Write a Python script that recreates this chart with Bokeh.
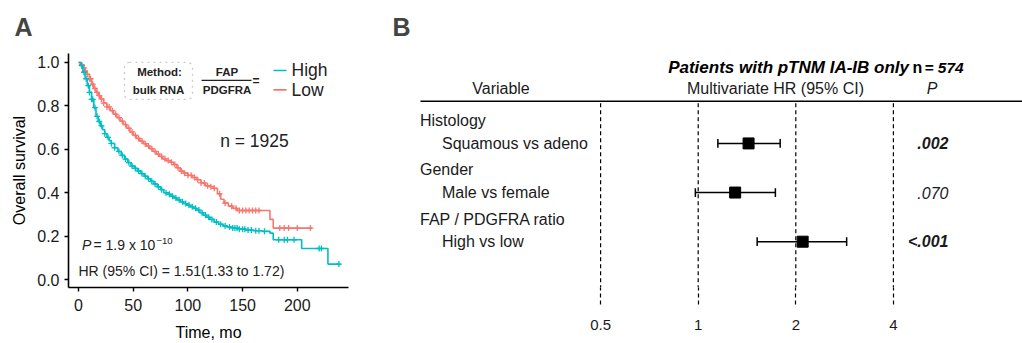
import numpy as np
from bokeh.plotting import figure
from bokeh.models import (Range1d, FixedTicker, PrintfTickFormatter, Label, BoxAnnotation,
                          ColumnDataSource, CustomJSTickFormatter)
from bokeh.layouts import row
from bokeh.embed import file_html
from bokeh.resources import INLINE
from bokeh.core.properties import value, field

# ---------------- Panel A data: Kaplan-Meier ----------------
high_time = [0, 2, 4, 6, 8, 10, 12, 14, 16, 18, 20, 22, 24, 26, 28, 30, 33, 36, 39, 42,
             45, 48, 51, 54, 57, 60, 63, 66, 69, 72, 75, 78, 81, 84, 87, 90, 93, 96, 99, 102,
             105, 108, 111, 114, 117, 120, 124, 128, 132, 136, 141, 147, 153, 160, 168, 175,
             178, 204, 228, 239.5]
high_surv = [1.0, 0.985, 0.955, 0.925, 0.893, 0.862, 0.83, 0.792, 0.752, 0.728,
             0.708, 0.69, 0.672, 0.655, 0.64, 0.627, 0.607, 0.59, 0.572, 0.555,
             0.539, 0.523, 0.512, 0.5, 0.488, 0.476, 0.464, 0.452, 0.44, 0.427,
             0.414, 0.40, 0.393, 0.384, 0.376, 0.367, 0.358, 0.35, 0.343, 0.335,
             0.328, 0.32, 0.308, 0.297, 0.287, 0.277, 0.265, 0.255, 0.247, 0.242,
             0.237, 0.232, 0.228, 0.225, 0.222, 0.214, 0.183, 0.143, 0.071, 0.071]
high_censor = [3, 5, 7, 9, 10, 12, 13, 15, 17, 19, 21, 24, 27, 30, 33, 37, 40, 43, 46, 49,
               52, 55, 58, 61, 64, 67, 70, 73, 76, 80, 83, 86, 89, 92, 95, 98, 101, 104, 107,
               110, 113, 116, 119, 122, 126, 130, 134, 138, 141, 143, 145, 147, 150, 152, 155,
               158, 162, 165, 170, 183, 188, 191, 197, 220, 222, 238]

low_time = [0, 2, 4, 6, 8, 10, 12, 14, 16, 18, 20, 23, 26, 29, 32, 35, 38, 41, 44, 47,
            50, 53, 56, 59, 62, 65, 68, 71, 74, 77, 80, 84, 87, 90, 93, 96, 100, 104, 108, 112,
            116, 120, 124, 127, 130, 133, 137, 141, 145, 175, 178, 213.5]
low_surv = [1.0, 0.99, 0.975, 0.96, 0.945, 0.925, 0.9, 0.88, 0.862, 0.847,
            0.832, 0.813, 0.795, 0.778, 0.762, 0.746, 0.73, 0.714, 0.697, 0.68,
            0.664, 0.65, 0.638, 0.626, 0.615, 0.603, 0.59, 0.578, 0.567, 0.556,
            0.548, 0.54, 0.53, 0.515, 0.5, 0.49, 0.48, 0.47, 0.46, 0.445,
            0.432, 0.428, 0.42, 0.395, 0.37, 0.352, 0.338, 0.328, 0.318, 0.277,
            0.237, 0.237]
low_censor = [3, 5, 6, 8, 10, 11, 13, 15, 17, 19, 21, 23, 26, 28, 31, 34, 37, 40, 43, 46,
              49, 52, 55, 58, 61, 64, 67, 70, 73, 76, 79, 82, 85, 88, 91, 94, 97, 100, 103,
              106, 109, 112, 115, 118, 121, 124, 129, 134, 140, 144, 147, 150, 153, 156, 159,
              162, 165, 184, 188, 192, 200, 212]

km_xticks = [0, 50, 100, 150, 200]
km_yticks = [0.0, 0.2, 0.4, 0.6, 0.8, 1.0]
n_total = 1925
group_names = ["High", "Low"]
p_value_text = "1.9 x 10"
p_exponent = "\u221210"
hr_text = "HR (95% CI) = 1.51(1.33 to 1.72)"

# ---------------- Panel B data: forest plot ----------------
groups = ["Histology", "Gender", "FAP / PDGFRA ratio"]
comparisons = ["Squamous vs adeno", "Male vs female", "High vs low"]
hr = [1.43, 1.30, 2.10]
ci_low = [1.15, 0.98, 1.52]
ci_high = [1.79, 1.73, 2.87]
p_text = [".002", ".070", "<.001"]
p_bold = [True, False, True]
hr_ticks = [0.5, 1, 2, 4]
panel_letters = ["A", "B"]

FONT = "Liberation Sans"
TEAL = "#00BFC4"
SALMON = "#F8766D"

# shared frame (plots in a row share their vertical frame position)
F_T, F_B = 53, 288


def panel_title(fig, text, offset):
    fig.title.text = text
    fig.title.text_font = FONT
    fig.title.text_font_size = "25px"
    fig.title.text_font_style = "bold"
    fig.title.align = "left"
    fig.title.vertical_align = "top"
    fig.title.offset = offset
    fig.title.standoff = 21


# ======================= Panel A =======================
AX0, AX1 = -9.14, 246.8
AY0, AY1 = -0.0367, 1.0413
A_L, A_R = 68, 348


def ax(px):
    return AX0 + (px - A_L) / (A_R - A_L) * (AX1 - AX0)


def ay(py):
    return AY1 - (py - F_T) / (F_B - F_T) * (AY1 - AY0)


pa = figure(width=390, height=343, x_range=Range1d(AX0, AX1), y_range=Range1d(AY0, AY1),
            title=panel_letters[0], output_backend="svg", toolbar_location=None,
            min_border_left=68, min_border_right=42, min_border_top=F_T,
            min_border_bottom=343 - F_B)
panel_title(pa, panel_letters[0], -54)
pa.outline_line_color = None
pa.grid.visible = False

for axis in (pa.xaxis[0], pa.yaxis[0]):
    axis.axis_line_width = 1.6
    axis.axis_line_color = "black"
    axis.major_tick_line_width = 1.4
    axis.major_tick_line_color = "black"
    axis.major_tick_out = 4
    axis.major_tick_in = 0
    axis.minor_tick_line_color = None
    axis.major_label_text_font = FONT
    axis.major_label_text_font_size = "16px"
    axis.major_label_text_color = "#1a1a1a"
    axis.axis_label_text_font = FONT
    axis.axis_label_text_font_size = "16px"
    axis.axis_label_text_font_style = "normal"
    axis.axis_label_text_color = "black"

pa.xaxis.ticker = FixedTicker(ticks=km_xticks)
pa.yaxis.ticker = FixedTicker(ticks=km_yticks)
pa.yaxis.formatter = PrintfTickFormatter(format="%.1f")
pa.xaxis.major_label_standoff = 7
pa.yaxis.major_label_standoff = 5
pa.xaxis.axis_label = "Time, mo"
pa.yaxis.axis_label = "Overall survival"
pa.xaxis.axis_label_standoff = 10
pa.yaxis.axis_label_standoff = 6


def step_value(times, surv, t):
    idx = np.searchsorted(np.asarray(times), np.asarray(t), side="right") - 1
    return np.asarray(surv)[idx]


for times, surv, cens, col in ((low_time, low_surv, low_censor, SALMON),
                               (high_time, high_surv, high_censor, TEAL)):
    pa.step(x=times, y=surv, mode="after", line_color=col, line_width=1.6)
    pa.scatter(x=cens, y=step_value(times, surv, cens), marker="cross", size=6,
               line_color=col, line_width=1.3)

box = BoxAnnotation(left=ax(124), right=ax(192), top=ay(62), bottom=ay(99),
                    fill_alpha=0, line_color="#555555", line_dash="dotted", line_width=1.3,
                    border_radius=5)
pa.add_layout(box)


def lab(fig, x, y, text, size, style="normal", align="left", color="black", baseline="middle"):
    fig.add_layout(Label(x=x, y=y, text=text, text_font=FONT, text_font_size=size,
                         text_font_style=style, text_align=align, text_baseline=baseline,
                         text_color=color))


lab(pa, ax(159), ay(72), "Method:", "11.5px", "bold", "center", "#222222")
lab(pa, ax(158), ay(89.5), "bulk RNA", "11.5px", "bold", "center", "#222222")
lab(pa, ax(226.5), ay(71.5), "FAP", "11.5px", "bold", "center", "#222222")
lab(pa, ax(226.5), ay(89.5), "PDGFRA", "11.5px", "bold", "center", "#222222")
pa.segment(x0=[ax(201)], x1=[ax(251)], y0=[ay(80)], y1=[ay(80)], line_color="#222222",
           line_width=1.2)
lab(pa, ax(252), ay(81), "=", "12px", "bold", "left", "#222222")

for i, (name, col) in enumerate(zip(group_names, (TEAL, SALMON))):
    yy = ay(70 + 19.5 * i)
    pa.segment(x0=[ax(273)], x1=[ax(286)], y0=[yy], y1=[yy], line_color=col, line_width=1.6)
    lab(pa, ax(291), yy, name, "17.5px", "normal", "left", "#222222")

lab(pa, ax(254), ay(141), f"n = {n_total}", "17.5px", "normal", "center", "#222222")
lab(pa, ax(81.5), ay(245), "P", "14px", "italic", "left", "#222222")
lab(pa, ax(93), ay(245), "= " + p_value_text, "14px", "normal", "left", "#222222")
lab(pa, ax(156), ay(241), p_exponent, "9.5px", "normal", "left", "#222222")
lab(pa, ax(78), ay(271.5), hr_text, "14px", "normal", "left", "#222222")

# ======================= Panel B =======================
B_L, B_R = 418, 1022          # frame, page pixels
PX_PER_DOUBLING = 97.6
ONE_PX = 697.7
BLO = 2 ** ((B_L - ONE_PX) / PX_PER_DOUBLING)
BHI = 2 ** ((B_R - ONE_PX) / PX_PER_DOUBLING)


def bx(px):
    return 2 ** ((px - ONE_PX) / PX_PER_DOUBLING)


def by(py):
    return 1 + (py - 143.3) / 49.35


pb = figure(width=632, height=343, x_axis_type="log", x_range=Range1d(BLO, BHI),
            y_range=Range1d(by(F_B), by(F_T)), y_axis_location=None,
            title=panel_letters[1], output_backend="svg", toolbar_location=None,
            min_border_left=B_L - 390, min_border_right=0, min_border_top=F_T,
            min_border_bottom=343 - F_B)
panel_title(pb, panel_letters[1], -26)
pb.outline_line_color = None
pb.grid.visible = False

xa = pb.xaxis[0]
xa.ticker = FixedTicker(ticks=hr_ticks)
xa.formatter = CustomJSTickFormatter(code="return String(tick)")
xa.axis_line_color = None
xa.major_tick_line_color = "black"
xa.major_tick_line_width = 1.2
xa.major_tick_line_dash = "4 3"
xa.major_tick_in = 0
xa.major_tick_out = 305 - F_B
xa.minor_tick_line_color = None
xa.major_label_text_font = FONT
xa.major_label_text_font_size = "15px"
xa.major_label_text_color = "#1a1a1a"
xa.major_label_standoff = 15

# reference dashed lines
pb.segment(x0=hr_ticks, x1=hr_ticks, y0=[by(103)] * len(hr_ticks), y1=[by(F_B)] * len(hr_ticks),
           line_color="black", line_width=1.2, line_dash="4 3")

rows_y = [i + 1 for i in range(len(comparisons))]
src = ColumnDataSource(dict(
    y=rows_y, hr=hr, lo=ci_low, hi=ci_high,
    cap0=[v - 0.09 for v in rows_y], cap1=[v + 0.09 for v in rows_y]))

pb.segment(x0="lo", x1="hi", y0="y", y1="y", source=src, line_color="black", line_width=1.5)
pb.segment(x0="lo", x1="lo", y0="cap0", y1="cap1", source=src, line_color="black", line_width=1.5)
pb.segment(x0="hi", x1="hi", y0="cap0", y1="cap1", source=src, line_color="black", line_width=1.5)
pb.scatter(x="hr", y="y", source=src, marker="square", size=11, color="black")

src_txt = ColumnDataSource(dict(y=rows_y, ytop=[v - 0.46 for v in rows_y], comp=comparisons,
                                grp=groups, ptxt=p_text,
                                pstyle=["bold italic" if b else "italic" for b in p_bold],
                                xc=[bx(441.5)] * 3, xg=[bx(419.5)] * 3, xp=[bx(948)] * 3))
pb.text(x="xc", y="y", text="comp", source=src_txt, text_font=value(FONT),
        text_font_size="16px", text_baseline="middle", text_color="#1a1a1a")
pb.text(x="xg", y="ytop", text="grp", source=src_txt, text_font=value(FONT),
        text_font_size="16px", text_baseline="middle", text_color="#1a1a1a")
pb.text(x="xp", y="y", text="ptxt", source=src_txt, text_font=value(FONT),
        text_font_size="16px", text_baseline="middle", text_align="right",
        text_font_style=field("pstyle"), text_color="#1a1a1a")

# header
pb.segment(x0=[bx(420)], x1=[bx(1022)], y0=[by(101)], y1=[by(101)], line_color="black",
           line_width=1.6)
lab(pb, bx(500.5), by(88.5), "Variable", "16px", "normal", "center", "#1a1a1a")
lab(pb, bx(775), by(88.5), "Multivariate HR (95% CI)", "16px", "normal", "center", "#1a1a1a")
lab(pb, bx(931.5), by(88.5), "P", "16px", "italic", "center", "#1a1a1a")
lab(pb, bx(924), by(67), "= 574", "15.5px", "bold italic", "left", "black")
lab(pb, bx(912), by(67), "n", "16px", "bold", "left", "black")
lab(pb, bx(908.5), by(67), "Patients with pTNM IA-IB only", "17px", "bold italic", "right", "black")

layout = row(pa, pb)
open("out.html", "w").write(file_html(layout, INLINE))
